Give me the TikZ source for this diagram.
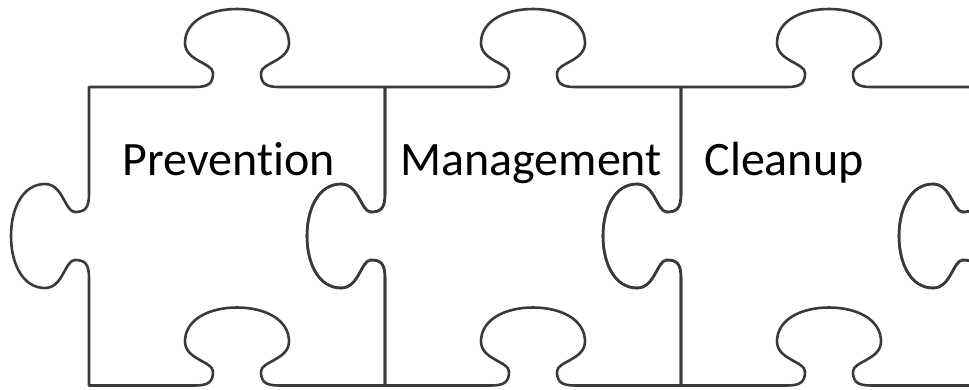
\documentclass[tikz,border=0pt]{standalone}
\usepackage{fontspec}
\setmainfont[RawFeature={-liga;-dlig}]{Carlito}
\definecolor{edgegray}{RGB}{58,58,58}
\begin{document}
\begin{tikzpicture}[x=1pt,y=-1pt,
  outline/.style={draw=edgegray,line width=2.6pt,line join=round},
  label/.style={anchor=base,text=black,font=\fontsize{48}{56}\selectfont,inner sep=0pt},
  piece/.pic={
    % top edge with a tab pointing up
    \draw[outline] (0,0) -- (106,0)
      .. controls (120,0) and (124,-4) .. (124,-14)
      .. controls (124,-24) and (96,-26) .. (96,-44)
      .. controls (96,-66) and (120,-78) .. (148,-78)
      .. controls (176,-78) and (200,-66) .. (200,-44)
      .. controls (200,-26) and (172,-24) .. (172,-14)
      .. controls (172,-4) and (176,0) .. (190,0) -- (296,0)
    % right edge with a notch
      -- (296,107)
      .. controls (296,121) and (292,125) .. (282,125)
      .. controls (272,125) and (270,97) .. (252,97)
      .. controls (230,97) and (218,121) .. (218,149)
      .. controls (218,177) and (230,201) .. (252,201)
      .. controls (270,201) and (272,173) .. (282,173)
      .. controls (292,173) and (296,177) .. (296,191) -- (296,298.5)
    % bottom edge with a notch
      -- (190,298.5)
      .. controls (176,298.5) and (172,294.5) .. (172,284.5)
      .. controls (172,274.5) and (200,272.5) .. (200,254.5)
      .. controls (200,232.5) and (176,220.5) .. (148,220.5)
      .. controls (120,220.5) and (96,232.5) .. (96,254.5)
      .. controls (96,272.5) and (124,274.5) .. (124,284.5)
      .. controls (124,294.5) and (120,298.5) .. (106,298.5) -- (0,298.5)
    % left edge with a tab pointing left
      -- (0,191)
      .. controls (0,177) and (-4,173) .. (-14,173)
      .. controls (-24,173) and (-26,201) .. (-44,201)
      .. controls (-66,201) and (-78,177) .. (-78,149)
      .. controls (-78,121) and (-66,97) .. (-44,97)
      .. controls (-26,97) and (-24,125) .. (-14,125)
      .. controls (-4,125) and (0,121) .. (0,107) -- cycle;
  }]
\useasboundingbox (0,0) rectangle (969,389);
\clip (0,0) rectangle (969,389);
\fill[white] (0,0) rectangle (969,389);
\pic at (89,87) {piece};
\pic at (385,87) {piece};
\pic at (681,87) {piece};
\pic at (977,87) {piece};
\node[label] (prevention) at (229,175) {Prevention};
\node[label] (management) at (531,175) {Management};
\node[label] (cleanup) at (784,175) {Cleanup};
\end{tikzpicture}
\end{document}
